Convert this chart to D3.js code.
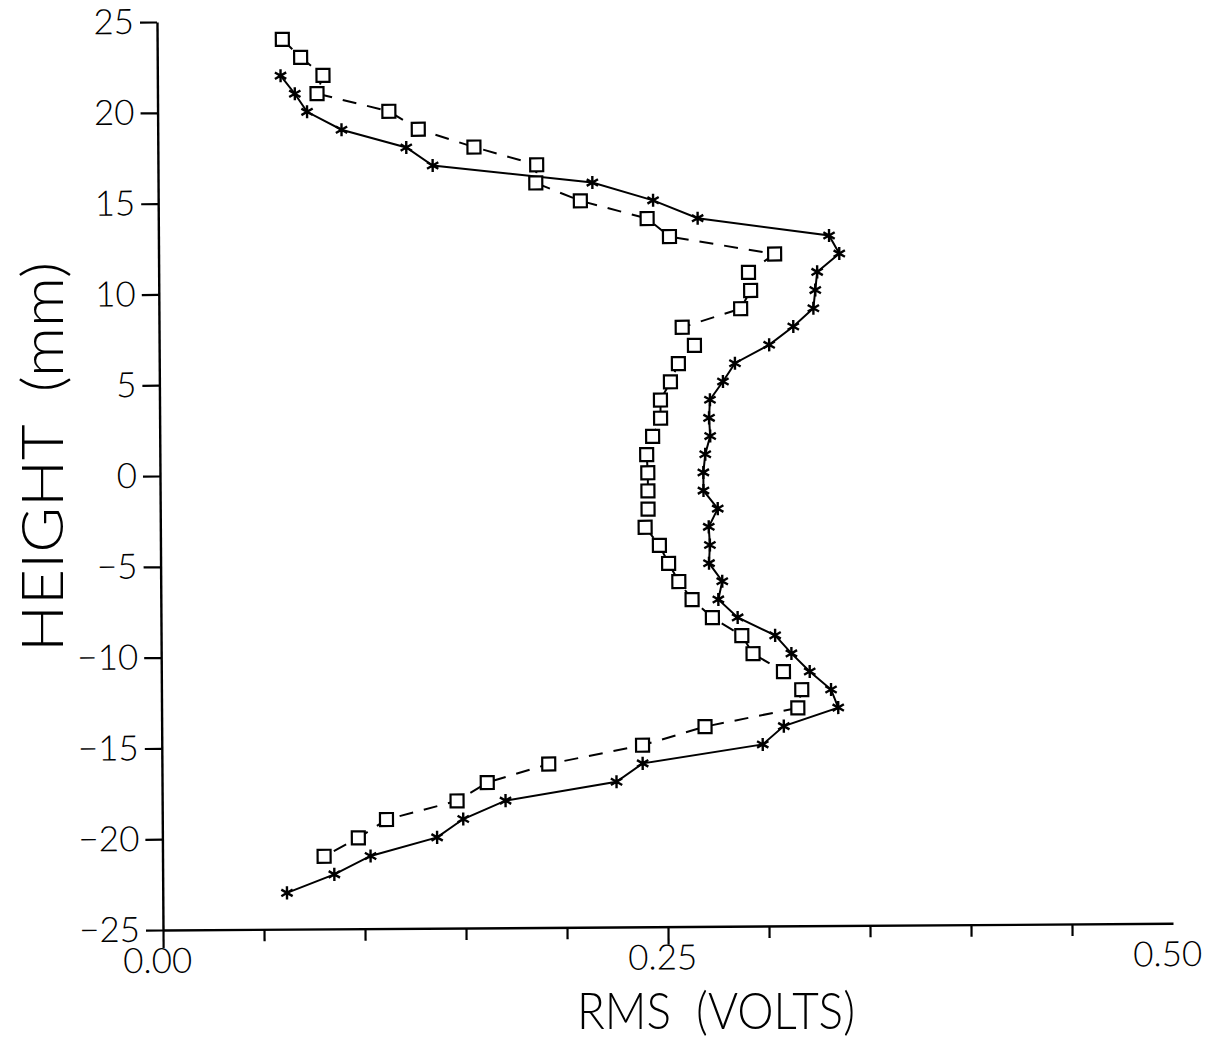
<!DOCTYPE html>
<html>
<head>
<meta charset="utf-8">
<script src="https://cdn.jsdelivr.net/npm/d3@7"></script>
<style>
  html, body { margin: 0; padding: 0; background: #fff; }
  svg { display: block; }
  text { font-family: "Lato", "Liberation Sans", Arial, sans-serif; font-weight: 300; fill: #000; }
</style>
</head>
<body>
<svg id="chart" width="1206" height="1041"></svg>
<script>
// ---- data ----
const heightsStar = [22,21,20,19,18,17,16,15,14,13,12,11,10,9,8,7,6,5,4,3,2,1,0,-1,-2,-3,-4,-5,-6,-7,-8,-9,-10,-11,-12,-13,-14,-15,-16,-17,-18,-19,-20,-21,-22,-23];
const rmsStar = [0.061,0.068,0.074,0.091,0.123,0.136,0.215,0.245,0.267,0.332,0.337,0.326,0.325,0.324,0.314,0.302,0.285,0.279,0.2725,0.272,0.2725,0.270,0.269,0.269,0.276,0.2715,0.272,0.2715,0.278,0.276,0.2855,0.304,0.312,0.321,0.3315,0.335,0.308,0.2975,0.238,0.225,0.170,0.149,0.136,0.103,0.085,0.0615];

const heightsSquare = [24,23,22,21,20,19,18,17,16,15,14,13,12,11,10,9,8,7,6,5,4,3,2,1,0,-1,-2,-3,-4,-5,-6,-7,-8,-9,-10,-11,-12,-13,-14,-15,-16,-17,-18,-19,-20,-21];
const rmsSquare = [0.062,0.071,0.082,0.079,0.1145,0.129,0.1565,0.1875,0.187,0.209,0.242,0.253,0.305,0.292,0.293,0.288,0.259,0.265,0.257,0.253,0.248,0.248,0.244,0.241,0.2415,0.2415,0.2415,0.240,0.247,0.2515,0.2565,0.263,0.273,0.2875,0.293,0.308,0.317,0.315,0.269,0.238,0.1915,0.161,0.146,0.111,0.097,0.080];

const yTickValues = [25,20,15,10,5,0,-5,-10,-15,-20,-25];
const xMajorTicks = [0, 0.25, 0.5];
const xMajorLabels = ["0.00", "0.25", "0.50"];
const xMinorTicks = [0.05,0.10,0.15,0.20,0.30,0.35,0.40,0.45];
const xTitle = "RMS  (VOLTS)";
const yTitle = "HEIGHT  (mm)";

// ---- layout ----
const svg = d3.select("#chart");
const x = d3.scaleLinear().domain([0, 0.5]).range([163, 1173]);
const y = d3.scaleLinear().domain([-25, 25]).range([930, 22]);

const g = svg.append("g").attr("transform", "rotate(-0.38,163,930)");

// y axis
const yAxis = d3.axisLeft(y)
  .tickValues(yTickValues)
  .tickSize(17)
  .tickSizeOuter(0)
  .tickPadding(6)
  .tickFormat(d3.format("d"));
const yg = g.append("g").attr("transform", `translate(${x(0)},0)`).call(yAxis);
yg.selectAll("text").style("font-size", "35px");
yg.attr("font-family", null).attr("font-size", null);

// x axis: minor ticks
const xMinor = d3.axisBottom(x).tickValues(xMinorTicks).tickSize(12).tickSizeOuter(0).tickFormat("");
const xg1 = g.append("g").attr("transform", `translate(0,${y(-25)})`).call(xMinor);
// x axis: major ticks with labels
const xMajor = d3.axisBottom(x).tickValues(xMajorTicks).tickSize(18).tickSizeOuter(0).tickPadding(0)
  .tickFormat((d, i) => xMajorLabels[i]);
const xg2 = g.append("g").attr("transform", `translate(0,${y(-25)})`).call(xMajor);
xg2.select(".domain").remove();
xg2.selectAll(".tick").filter(d => d === 0.5).select("line").remove();
xg2.selectAll("text").style("font-size", "35px").attr("dx", "-6");
xg2.attr("font-family", null).attr("font-size", null);
xg1.attr("font-family", null);

[yg, xg1, xg2].forEach(a => {
  a.selectAll("path.domain").attr("stroke", "#000").attr("stroke-width", 2.4);
  a.selectAll(".tick line").attr("stroke", "#000").attr("stroke-width", 2.2);
});

// ---- series ----
const starData = heightsStar.map((h, i) => ({h, v: rmsStar[i]}));
const squareData = heightsSquare.map((h, i) => ({h, v: rmsSquare[i]}));
const line = d3.line().x(d => x(d.v)).y(d => y(d.h));

g.append("path").datum(squareData)
  .attr("d", line).attr("fill", "none").attr("stroke", "#000")
  .attr("stroke-width", 2).attr("stroke-dasharray", "14,11");

g.append("path").datum(starData)
  .attr("d", line).attr("fill", "none").attr("stroke", "#000")
  .attr("stroke-width", 2);

const sq = 13;
g.selectAll("rect.sq").data(squareData).join("rect")
  .attr("class", "sq")
  .attr("x", d => x(d.v) - sq / 2).attr("y", d => y(d.h) - sq / 2)
  .attr("width", sq).attr("height", sq)
  .attr("fill", "#fff").attr("stroke", "#000").attr("stroke-width", 2.2);

const star = d3.symbol().type(d3.symbolAsterisk).size(120);
g.selectAll("path.st").data(starData).join("path")
  .attr("class", "st")
  .attr("transform", d => `translate(${x(d.v)},${y(d.h)})`)
  .attr("d", star).attr("fill", "none").attr("stroke", "#000").attr("stroke-width", 2.4);

// ---- titles ----
svg.append("text")
  .attr("x", 716).attr("y", 1029)
  .attr("text-anchor", "middle")
  .attr("textLength", 278).attr("lengthAdjust", "spacingAndGlyphs")
  .style("font-size", "51px").style("white-space", "pre")
  .text(xTitle);

svg.append("text")
  .attr("transform", "translate(63,457) rotate(-90)")
  .attr("text-anchor", "middle")
  .attr("textLength", 390).attr("lengthAdjust", "spacingAndGlyphs")
  .style("font-size", "58px").style("white-space", "pre")
  .text(yTitle);
</script>
</body>
</html>
